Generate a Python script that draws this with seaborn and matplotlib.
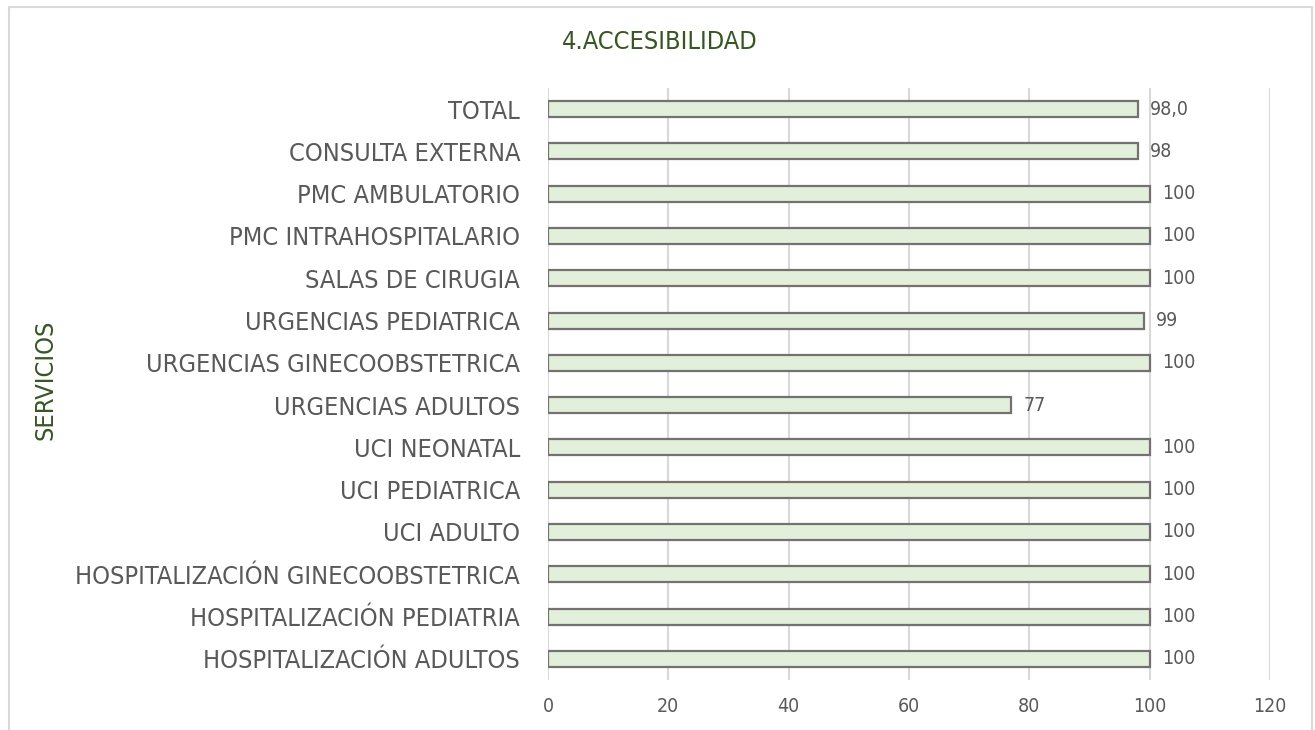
import matplotlib
matplotlib.use("Agg")
import matplotlib.pyplot as plt
import seaborn as sns
import pandas as pd
from matplotlib.patches import Rectangle

categories = [
    "TOTAL", "CONSULTA EXTERNA", "PMC AMBULATORIO", "PMC INTRAHOSPITALARIO",
    "SALAS DE CIRUGIA", "URGENCIAS PEDIATRICA", "URGENCIAS GINECOOBSTETRICA",
    "URGENCIAS ADULTOS", "UCI NEONATAL", "UCI PEDIATRICA", "UCI ADULTO",
    "HOSPITALIZACIÓN GINECOOBSTETRICA", "HOSPITALIZACIÓN PEDIATRIA",
    "HOSPITALIZACIÓN ADULTOS",
]
values = [98.0, 98, 100, 100, 100, 99, 100, 77, 100, 100, 100, 100, 100, 100]
value_labels = ["98,0", "98", "100", "100", "100", "99", "100", "77", "100",
                "100", "100", "100", "100", "100"]
xticks = [0, 20, 40, 60, 80, 100, 120]

sns.set_theme(style="white")
plt.rcParams['font.family'] = ['DejaVu Sans']
plt.rcParams['font.stretch'] = 'condensed'

df = pd.DataFrame({"cat": categories, "val": values})

fig = plt.figure(figsize=(13.15, 7.3), dpi=100)
ax = fig.add_axes([0.4167, 0.0685, 0.5491, 0.811])

sns.barplot(data=df, x="val", y="cat", orient="h", ax=ax, color="#E2EFDA",
            edgecolor="#767171", linewidth=1.6, width=0.38, saturation=1)

ax.set_xlim(0, 120)
ax.set_ylim(13.5, -0.5)
ax.set_xticks(xticks)
ax.set_xticklabels([str(t) for t in xticks], fontsize=14, color="#595959")
ax.tick_params(axis="x", length=0, pad=12)
ax.tick_params(axis="y", length=0, pad=20)
ax.set_yticks(range(len(categories)))
ax.set_yticklabels(categories, fontsize=18.2, color="#595959")
ax.xaxis.grid(True, color="#D9D9D9", linewidth=1.5)
ax.set_axisbelow(True)
for s in ax.spines.values():
    s.set_visible(False)
ax.set_xlabel("")
ax.set_ylabel("")

for cont in ax.containers:
    ax.bar_label(cont, labels=value_labels, padding=9, fontsize=14, color="#595959")

fig.text(45 / 1315, 1 - 380 / 730, "SERVICIOS", rotation=90, ha="center", va="center",
         fontsize=18.2, color="#375623")
fig.text(660 / 1315, 1 - 42 / 730, "4.ACCESIBILIDAD", ha="center", va="center",
         fontsize=18.2, color="#375623")

fig.patches.append(Rectangle((0.0065, -0.05), 0.991, 1.04, transform=fig.transFigure,
                             fill=False, edgecolor="#D9D9D9", linewidth=1.5))

fig.savefig("out.png", dpi=100, facecolor="white")
